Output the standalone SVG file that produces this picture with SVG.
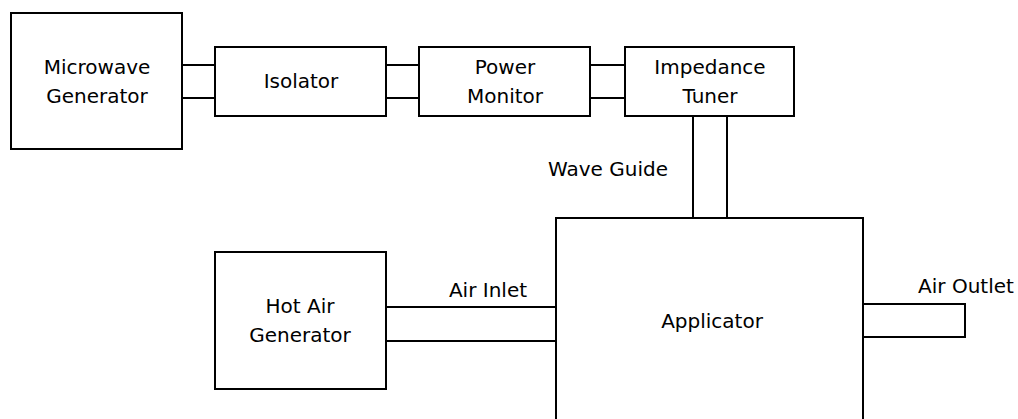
<svg xmlns="http://www.w3.org/2000/svg" width="1018" height="419" viewBox="0 0 1018 419">
<style>
.box{fill:#fff;stroke:#000;stroke-width:2}
.ln{fill:none;stroke:#000;stroke-width:2}
text{font-family:"DejaVu Sans",sans-serif;font-size:20px;fill:#000;text-anchor:middle}
</style>
<rect width="1018" height="419" fill="#fff"/>
<g id="connectors">
<line class="ln" x1="182" y1="65" x2="215" y2="65"/>
<line class="ln" x1="182" y1="98" x2="215" y2="98"/>
<line class="ln" x1="386" y1="65" x2="419" y2="65"/>
<line class="ln" x1="386" y1="98" x2="419" y2="98"/>
<line class="ln" x1="590" y1="65" x2="625" y2="65"/>
<line class="ln" x1="590" y1="98" x2="625" y2="98"/>
<line class="ln" x1="693" y1="116" x2="693" y2="218"/>
<line class="ln" x1="727" y1="116" x2="727" y2="218"/>
<text x="608" y="176">Wave Guide</text>
<line class="ln" x1="386" y1="307" x2="556" y2="307"/>
<line class="ln" x1="386" y1="341" x2="556" y2="341"/>
<text x="488" y="297">Air Inlet</text>
</g>
<g id="microwave-generator">
<rect class="box" x="11" y="13" width="171" height="136"/>
<text x="97" y="74">Microwave</text>
<text x="97" y="103">Generator</text>
</g>
<g id="isolator">
<rect class="box" x="215" y="47" width="171" height="69"/>
<text x="301" y="88">Isolator</text>
</g>
<g id="power-monitor">
<rect class="box" x="419" y="47" width="171" height="69"/>
<text x="505" y="74">Power</text>
<text x="505" y="103">Monitor</text>
</g>
<g id="impedance-tuner">
<rect class="box" x="625" y="47" width="169" height="69"/>
<text x="710" y="74">Impedance</text>
<text x="710" y="103">Tuner</text>
</g>
<g id="hot-air-generator">
<rect class="box" x="215" y="252" width="171" height="137"/>
<text x="300" y="313">Hot Air</text>
<text x="300" y="342">Generator</text>
</g>
<g id="applicator">
<rect class="box" x="556" y="218" width="307" height="215"/>
<text x="712" y="328">Applicator</text>
</g>
<g id="air-outlet">
<rect class="box" x="863" y="304" width="102" height="33"/>
<text x="966" y="293">Air Outlet</text>
</g>
</svg>
